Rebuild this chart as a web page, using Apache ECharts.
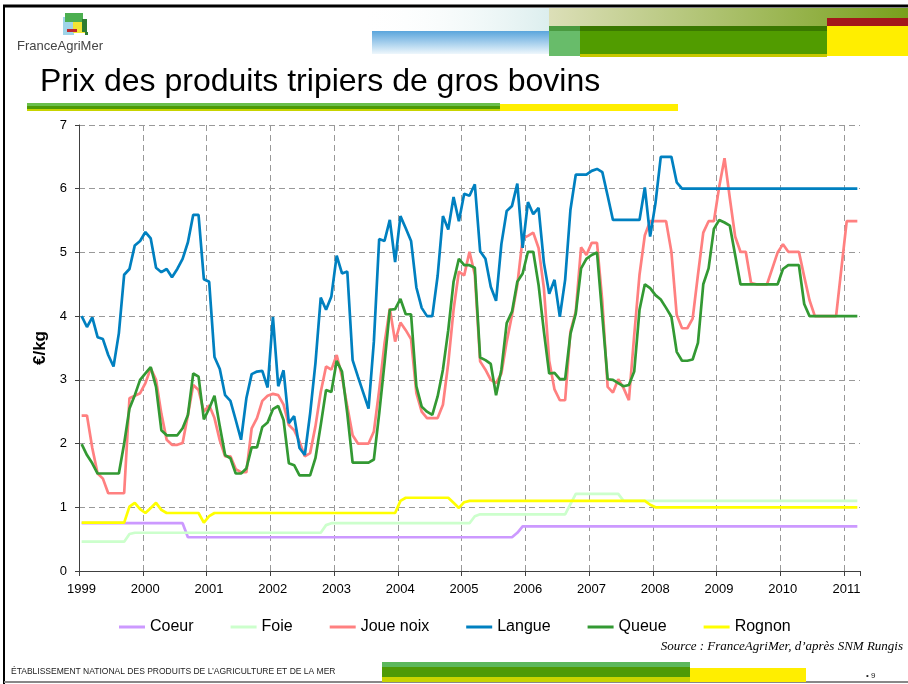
<!DOCTYPE html>
<html>
<head>
<meta charset="utf-8">
<script src="https://cdn.jsdelivr.net/npm/echarts@6/dist/echarts.min.js"></script>
<style>
  html, body { margin: 0; padding: 0; background: #fff; }
  #chart { width: 908px; height: 684px; }
</style>
</head>
<body>
<div id="chart"></div>
<script>
// monthly prices, Jan 1999 -> Mar 2011 (one row per year)
const startYear = 1999
const yearTicks = [1999, 2000, 2001, 2002, 2003, 2004, 2005, 2006, 2007, 2008, 2009, 2010, 2011]
const seriesNames = ['Coeur', 'Foie', 'Joue noix', 'Langue', 'Queue', 'Rognon']
const seriesColors = ['#cc99ff', '#ccffcc', '#ff8080', '#0080c0', '#339933', '#ffff00']

const coeur = [
  0.75, 0.75, 0.75, 0.75, 0.75, 0.75, 0.75, 0.75, 0.75, 0.75, 0.75, 0.75,
  0.75, 0.75, 0.75, 0.75, 0.75, 0.75, 0.75, 0.75, 0.53, 0.53, 0.53, 0.53,
  0.53, 0.53, 0.53, 0.53, 0.53, 0.53, 0.53, 0.53, 0.53, 0.53, 0.53, 0.53,
  0.53, 0.53, 0.53, 0.53, 0.53, 0.53, 0.53, 0.53, 0.53, 0.53, 0.53, 0.53,
  0.53, 0.53, 0.53, 0.53, 0.53, 0.53, 0.53, 0.53, 0.53, 0.53, 0.53, 0.53,
  0.53, 0.53, 0.53, 0.53, 0.53, 0.53, 0.53, 0.53, 0.53, 0.53, 0.53, 0.53,
  0.53, 0.53, 0.53, 0.53, 0.53, 0.53, 0.53, 0.53, 0.53, 0.53, 0.60, 0.70,
  0.70, 0.70, 0.70, 0.70, 0.70, 0.70, 0.70, 0.70, 0.70, 0.70, 0.70, 0.70,
  0.70, 0.70, 0.70, 0.70, 0.70, 0.70, 0.70, 0.70, 0.70, 0.70, 0.70, 0.70,
  0.70, 0.70, 0.70, 0.70, 0.70, 0.70, 0.70, 0.70, 0.70, 0.70, 0.70, 0.70,
  0.70, 0.70, 0.70, 0.70, 0.70, 0.70, 0.70, 0.70, 0.70, 0.70, 0.70, 0.70,
  0.70, 0.70, 0.70, 0.70, 0.70, 0.70, 0.70, 0.70, 0.70, 0.70, 0.70, 0.70,
  0.70, 0.70, 0.70
]
const foie = [
  0.46, 0.46, 0.46, 0.46, 0.46, 0.46, 0.46, 0.46, 0.46, 0.58, 0.60, 0.60,
  0.60, 0.60, 0.60, 0.60, 0.60, 0.60, 0.60, 0.60, 0.60, 0.60, 0.60, 0.60,
  0.60, 0.60, 0.60, 0.60, 0.60, 0.60, 0.60, 0.60, 0.60, 0.60, 0.60, 0.60,
  0.60, 0.60, 0.60, 0.60, 0.60, 0.60, 0.60, 0.60, 0.60, 0.60, 0.72, 0.75,
  0.75, 0.75, 0.75, 0.75, 0.75, 0.75, 0.75, 0.75, 0.75, 0.75, 0.75, 0.75,
  0.75, 0.75, 0.75, 0.75, 0.75, 0.75, 0.75, 0.75, 0.75, 0.75, 0.75, 0.75,
  0.75, 0.75, 0.86, 0.89, 0.89, 0.89, 0.89, 0.89, 0.89, 0.89, 0.89, 0.89,
  0.89, 0.89, 0.89, 0.89, 0.89, 0.89, 0.89, 0.89, 1.05, 1.21, 1.21, 1.21,
  1.21, 1.21, 1.21, 1.21, 1.21, 1.21, 1.10, 1.10, 1.10, 1.10, 1.10, 1.10,
  1.10, 1.10, 1.10, 1.10, 1.10, 1.10, 1.10, 1.10, 1.10, 1.10, 1.10, 1.10,
  1.10, 1.10, 1.10, 1.10, 1.10, 1.10, 1.10, 1.10, 1.10, 1.10, 1.10, 1.10,
  1.10, 1.10, 1.10, 1.10, 1.10, 1.10, 1.10, 1.10, 1.10, 1.10, 1.10, 1.10,
  1.10, 1.10, 1.10
]
const joueNoix = [
  2.44, 2.44, 1.93, 1.53, 1.45, 1.22, 1.22, 1.22, 1.22, 2.71, 2.75, 2.79,
  2.95, 3.18, 3.00, 2.47, 2.06, 1.98, 1.98, 2.01, 2.45, 2.92, 2.84, 2.50,
  2.60, 2.40, 2.05, 1.80, 1.80, 1.60, 1.55, 1.55, 2.24, 2.40, 2.67, 2.75,
  2.78, 2.76, 2.61, 2.29, 2.21, 2.03, 1.80, 1.85, 2.27, 2.81, 3.21, 3.16,
  3.39, 3.05, 2.58, 2.13, 2.00, 2.00, 2.00, 2.19, 2.84, 3.57, 4.12, 3.60,
  3.90, 3.78, 3.64, 2.79, 2.50, 2.40, 2.40, 2.40, 2.61, 3.26, 4.10, 4.70,
  4.64, 5.01, 4.65, 3.29, 3.16, 3.00, 2.95, 3.10, 3.60, 4.02, 4.49, 5.22,
  5.26, 5.31, 5.07, 4.44, 3.30, 2.85, 2.68, 2.68, 3.76, 4.07, 5.08, 4.96,
  5.15, 5.15, 4.23, 2.89, 2.80, 3.01, 2.87, 2.68, 3.70, 4.65, 5.27, 5.49,
  5.49, 5.49, 5.49, 5.01, 4.02, 3.81, 3.81, 3.96, 4.65, 5.31, 5.49, 5.49,
  6.03, 6.48, 5.85, 5.25, 5.01, 5.01, 4.52, 4.50, 4.50, 4.50, 4.75, 5.00,
  5.13, 5.01, 5.01, 5.01, 4.62, 4.25, 4.00, 4.00, 4.00, 4.00, 4.00, 4.75,
  5.49, 5.49, 5.49
]
const langue = [
  4.00, 3.83, 3.98, 3.67, 3.64, 3.39, 3.21, 3.73, 4.65, 4.74, 5.11, 5.18,
  5.32, 5.22, 4.76, 4.69, 4.74, 4.61, 4.74, 4.90, 5.16, 5.59, 5.59, 4.58,
  4.54, 3.36, 3.17, 2.76, 2.67, 2.37, 2.06, 2.71, 3.09, 3.13, 3.14, 2.88,
  3.99, 2.90, 3.15, 2.32, 2.43, 1.93, 1.82, 2.47, 3.26, 4.29, 4.10, 4.31,
  4.95, 4.67, 4.70, 3.31, 3.05, 2.80, 2.55, 3.60, 5.21, 5.18, 5.51, 4.85,
  5.57, 5.38, 5.18, 4.45, 4.13, 4.00, 4.00, 4.63, 5.57, 5.36, 5.87, 5.49,
  5.92, 5.89, 6.07, 5.02, 4.90, 4.46, 4.24, 5.13, 5.65, 5.73, 6.08, 5.07,
  5.79, 5.60, 5.70, 4.84, 4.35, 4.57, 3.99, 4.57, 5.67, 6.22, 6.22, 6.22,
  6.28, 6.31, 6.26, 5.89, 5.51, 5.51, 5.51, 5.51, 5.51, 5.51, 6.02, 5.25,
  5.77, 6.50, 6.50, 6.50, 6.10, 6.00, 6.00, 6.00, 6.00, 6.00, 6.00, 6.00,
  6.00, 6.00, 6.00, 6.00, 6.00, 6.00, 6.00, 6.00, 6.00, 6.00, 6.00, 6.00,
  6.00, 6.00, 6.00, 6.00, 6.00, 6.00, 6.00, 6.00, 6.00, 6.00, 6.00, 6.00,
  6.00, 6.00, 6.00
]
const queue = [
  1.99, 1.82, 1.69, 1.53, 1.53, 1.53, 1.53, 1.53, 2.00, 2.55, 2.76, 3.00,
  3.10, 3.20, 2.89, 2.21, 2.13, 2.13, 2.13, 2.24, 2.45, 3.10, 3.05, 2.38,
  2.55, 2.75, 2.27, 1.82, 1.77, 1.53, 1.53, 1.61, 1.94, 1.94, 2.26, 2.33,
  2.54, 2.59, 2.37, 1.69, 1.66, 1.50, 1.50, 1.50, 1.77, 2.29, 2.84, 2.81,
  3.30, 3.13, 2.47, 1.70, 1.70, 1.70, 1.70, 1.75, 2.47, 3.26, 4.10, 4.11,
  4.27, 4.03, 4.03, 2.90, 2.58, 2.50, 2.45, 2.74, 3.16, 3.78, 4.54, 4.90,
  4.80, 4.80, 4.76, 3.35, 3.31, 3.25, 2.76, 3.16, 3.89, 4.07, 4.54, 4.67,
  5.01, 5.01, 4.49, 3.76, 3.10, 3.11, 3.01, 3.01, 3.72, 4.04, 4.75, 4.90,
  4.96, 5.00, 4.00, 3.01, 3.00, 2.95, 2.90, 2.92, 3.13, 4.10, 4.50, 4.44,
  4.33, 4.26, 4.13, 3.99, 3.44, 3.30, 3.30, 3.32, 3.58, 4.50, 4.75, 5.37,
  5.51, 5.47, 5.42, 4.96, 4.50, 4.50, 4.50, 4.50, 4.50, 4.50, 4.50, 4.50,
  4.74, 4.80, 4.80, 4.80, 4.19, 4.00, 4.00, 4.00, 4.00, 4.00, 4.00, 4.00,
  4.00, 4.00, 4.00
]
const rognon = [
  0.76, 0.76, 0.76, 0.76, 0.76, 0.76, 0.76, 0.76, 0.76, 1.01, 1.07, 0.97,
  0.91, 0.99, 1.07, 0.96, 0.91, 0.91, 0.91, 0.91, 0.91, 0.91, 0.91, 0.76,
  0.86, 0.91, 0.91, 0.91, 0.91, 0.91, 0.91, 0.91, 0.91, 0.91, 0.91, 0.91,
  0.91, 0.91, 0.91, 0.91, 0.91, 0.91, 0.91, 0.91, 0.91, 0.91, 0.91, 0.91,
  0.91, 0.91, 0.91, 0.91, 0.91, 0.91, 0.91, 0.91, 0.91, 0.91, 0.91, 0.91,
  1.10, 1.15, 1.15, 1.15, 1.15, 1.15, 1.15, 1.15, 1.15, 1.15, 1.07, 0.99,
  1.08, 1.10, 1.10, 1.10, 1.10, 1.10, 1.10, 1.10, 1.10, 1.10, 1.10, 1.10,
  1.10, 1.10, 1.10, 1.10, 1.10, 1.10, 1.10, 1.10, 1.10, 1.10, 1.10, 1.10,
  1.10, 1.10, 1.10, 1.10, 1.10, 1.10, 1.10, 1.10, 1.10, 1.10, 1.10, 1.04,
  1.00, 1.00, 1.00, 1.00, 1.00, 1.00, 1.00, 1.00, 1.00, 1.00, 1.00, 1.00,
  1.00, 1.00, 1.00, 1.00, 1.00, 1.00, 1.00, 1.00, 1.00, 1.00, 1.00, 1.00,
  1.00, 1.00, 1.00, 1.00, 1.00, 1.00, 1.00, 1.00, 1.00, 1.00, 1.00, 1.00,
  1.00, 1.00, 1.00
]

const seriesValues = [coeur, foie, joueNoix, langue, queue, rognon]
const FONT = '"Liberation Sans", Arial, sans-serif'

// each value sits in the middle of its month
const toPoints = values => values.map((v, i) => [startYear + (i + 0.5) / 12, v])

const rect = (x, y, w, h, fill) => ({type: 'rect', silent: true, shape: {x, y, width: w, height: h}, style: {fill}})
const hGrad = (a, b) => new echarts.graphic.LinearGradient(0, 0, 1, 0, [{offset: 0, color: a}, {offset: 1, color: b}])
const vGrad = (a, b) => new echarts.graphic.LinearGradient(0, 0, 0, 1, [{offset: 0, color: a}, {offset: 1, color: b}])

const chart = echarts.init(document.getElementById('chart'), null, {renderer: 'canvas'})

chart.setOption({
  animation: false,
  backgroundColor: '#fff',
  textStyle: {fontFamily: FONT},
  grid: {left: 79, right: 48, top: 125, bottom: 113, containLabel: false},
  legend: {
    left: 114, top: 614,
    icon: 'rect', itemWidth: 26, itemHeight: 3, itemGap: 37,
    textStyle: {fontSize: 16, color: '#000', fontFamily: FONT},
    data: seriesNames
  },
  xAxis: {
    type: 'value', min: 1999, max: 2011.25, interval: 1,
    axisLine: {lineStyle: {color: '#404040', width: 1}},
    axisTick: {length: 5, lineStyle: {color: '#404040'}},
    axisLabel: {
      margin: 12, fontSize: 13, color: '#000', fontFamily: FONT, padding: [0, 0, 0, 5],
      formatter: v => yearTicks.includes(v) ? String(v) : ''
    },
    splitLine: {show: true, showMinLine: false, showMaxLine: false, lineStyle: {type: [6, 4], color: '#999', width: 1}}
  },
  yAxis: {
    type: 'value', min: 0, max: 7, interval: 1,
    name: '€/kg', nameLocation: 'middle', nameGap: 30, nameRotate: 90,
    nameTextStyle: {fontSize: 17, fontWeight: 'bold', color: '#000', fontFamily: FONT},
    axisLine: {show: true, lineStyle: {color: '#404040', width: 1}},
    axisTick: {show: true, length: 4, lineStyle: {color: '#404040'}},
    axisLabel: {margin: 12, fontSize: 13, color: '#000', fontFamily: FONT},
    splitLine: {show: true, showMinLine: false, lineStyle: {type: [6, 4], color: '#999', width: 1}}
  },
  series: seriesNames.map((name, k) => ({
    name,
    type: 'line',
    data: toPoints(seriesValues[k]),
    showSymbol: false,
    symbol: 'none',
    color: seriesColors[k],
    lineStyle: {width: 2.7, color: seriesColors[k]},
    z: 2 + k
  })),
  graphic: [
    // slide frame
    {type: 'line', silent: true, shape: {x1: 3, y1: 6, x2: 908, y2: 6}, style: {stroke: '#000', lineWidth: 3}},
    {type: 'line', silent: true, shape: {x1: 4, y1: 5, x2: 4, y2: 684}, style: {stroke: '#000', lineWidth: 2}},
    {type: 'line', silent: true, shape: {x1: 4, y1: 682, x2: 908, y2: 682}, style: {stroke: '#888', lineWidth: 2}},
    // header bands
    rect(360, 8, 189, 23, hGrad('rgba(255,255,255,0)', '#dceeee')),
    rect(549, 8, 359, 18, hGrad('#dcdfb8', '#78a01c')),
    rect(372, 31, 177, 23, vGrad('#5aa5dc', '#eef7fc')),
    rect(549, 26, 31, 30, '#68bc6a'),
    rect(549, 26, 31, 5, '#4a9a40'),
    rect(580, 26, 247, 30, '#519c00'),
    rect(580, 26, 247, 5, '#3a7800'),
    rect(580, 54, 247, 3, '#c8c800'),
    rect(827, 18, 81, 8, '#a3171b'),
    rect(827, 26, 81, 30, '#ffee00'),
    // logo
    rect(63, 17, 11, 18, '#9fd4e8'),
    rect(65, 13, 18, 9, '#4caf50'),
    rect(73, 22, 12, 11, '#f2e534'),
    rect(67, 29, 10, 3, '#c0272d'),
    rect(82, 19, 5, 13, '#2e7d32'),
    rect(85, 32, 3, 3, '#2e7d32'),
    {type: 'text', silent: true, style: {text: 'FranceAgriMer', x: 60, y: 46, textAlign: 'center', textVerticalAlign: 'middle', font: '13px ' + FONT, fill: '#444'}},
    // title
    {type: 'text', silent: true, style: {text: 'Prix des produits tripiers de gros bovins', x: 40, y: 82, textAlign: 'left', textVerticalAlign: 'middle', font: '32px ' + FONT, fill: '#000'}},
    rect(27, 103, 473, 3, '#6abf4b'),
    rect(27, 106, 473, 3, '#4e9a06'),
    rect(27, 109, 473, 2, '#c8d400'),
    rect(500, 104, 178, 7, '#ffee00'),
    // source + footer
    {type: 'text', silent: true, style: {text: 'Source : FranceAgriMer, d\u2019après SNM Rungis', x: 903, y: 647, textAlign: 'right', textVerticalAlign: 'middle', font: 'italic 13px "Liberation Serif", "Times New Roman", serif', fill: '#000'}},
    {type: 'text', silent: true, style: {text: 'ÉTABLISSEMENT NATIONAL DES PRODUITS DE L\u2019AGRICULTURE ET DE LA MER', x: 11, y: 672, textAlign: 'left', textVerticalAlign: 'middle', font: '8.5px ' + FONT, fill: '#222'}},
    rect(382, 662, 308, 5, '#5cb85c'),
    rect(382, 667, 308, 10, '#4e9a06'),
    rect(382, 677, 308, 5, '#c8d400'),
    rect(690, 668, 116, 14, '#ffee00'),
    {type: 'text', silent: true, style: {text: '\u2022 9', x: 866, y: 676, textAlign: 'left', textVerticalAlign: 'middle', font: '8px ' + FONT, fill: '#222'}}
  ]
})
</script>
</body>
</html>
